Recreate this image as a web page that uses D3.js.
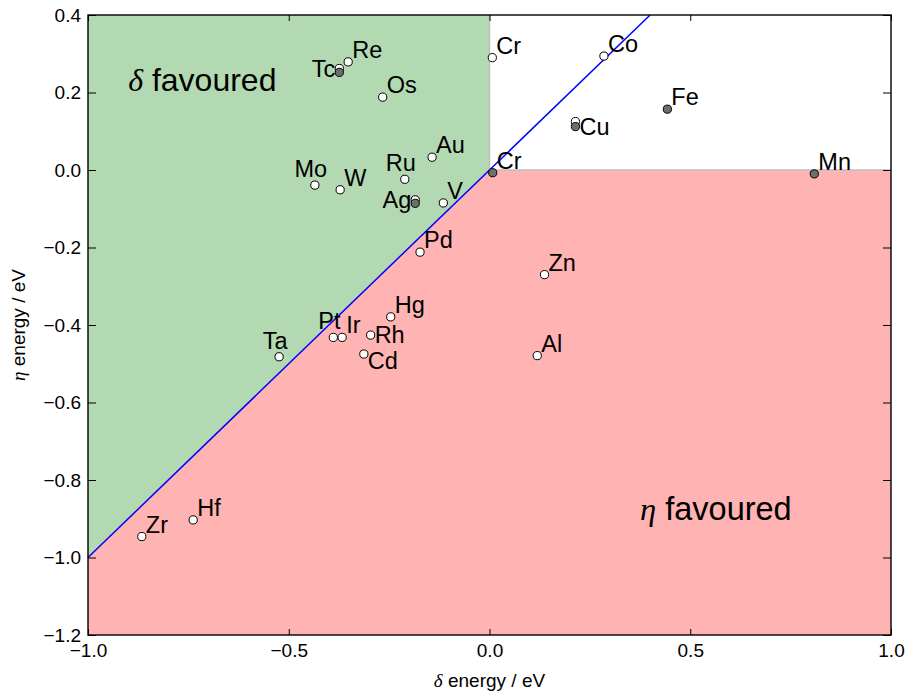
<!DOCTYPE html>
<html>
<head>
<meta charset="utf-8">
<script src="https://cdn.jsdelivr.net/npm/d3@7"></script>
<style>
  body { margin: 0; background: #fff; }
  text { font-family: "Liberation Sans", Arial, sans-serif; }
  .greek { font-family: "Liberation Serif", "DejaVu Serif", serif; font-style: italic; }
</style>
</head>
<body>
<svg width="910" height="696"></svg>
<script>
// open markers (one calculation set)
const openElements = ['Tc', 'Re', 'Os', 'Au', 'Ru', 'Mo', 'W', 'Ag', 'V', 'Cr', 'Co', 'Cu',
    'Pd', 'Hg', 'Pt', 'Ir', 'Rh', 'Cd', 'Ta', 'Zn', 'Al', 'Zr', 'Hf'];
const openDelta = [-0.374, -0.352, -0.266, -0.143, -0.211, -0.435, -0.372, -0.185, -0.115, 0.007, 0.285, 0.214,
    -0.173, -0.246, -0.389, -0.367, -0.296, -0.313, -0.524, 0.137, 0.119, -0.866, -0.738];
const openEta = [0.262, 0.279, 0.188, 0.033, -0.024, -0.039, -0.051, -0.077, -0.085, 0.290, 0.294, 0.125,
    -0.212, -0.379, -0.432, -0.432, -0.426, -0.475, -0.482, -0.270, -0.479, -0.946, -0.903];

// grey markers (magnetic set)
const filledElements = ['Tc', 'Ag', 'Cu', 'Cr', 'Fe', 'Mn'];
const filledDelta = [-0.374, -0.185, 0.214, 0.008, 0.443, 0.809];
const filledEta = [0.252, -0.086, 0.112, -0.007, 0.157, -0.010];

const xTicks = [-1.0, -0.5, 0.0, 0.5, 1.0];
const yTicks = [0.4, 0.2, 0.0, -0.2, -0.4, -0.6, -0.8, -1.0, -1.2];

// labels that are drawn by the grey set instead
const skipOpenLabel = ['Tc', 'Ag', 'Cu'];
const labelPlacement = {
    Mo: 'above', Ru: 'above', Pt: 'above', Ta: 'above',
    Tc: 'left', Ag: 'left',
    Cu: 'rightMid', Rh: 'rightMid', Cd: 'rightBelow'
};
const placements = {
    right: { anchor: 'start', dx: 4, dy: -4 },
    rightMid: { anchor: 'start', dx: 4, dy: 8 },
    rightBelow: { anchor: 'start', dx: 4, dy: 15 },
    above: { anchor: 'middle', dx: -4, dy: -8 },
    left: { anchor: 'end', dx: -4, dy: 5 }
};

const margin = { left: 88, top: 15, right: 19, bottom: 61 };
const width = 910 - margin.left - margin.right,
    height = 696 - margin.top - margin.bottom;

let svg = d3.select('svg');
let g = svg.append('g').attr('transform', `translate(${margin.left},${margin.top})`);

let x = d3.scaleLinear().domain([-1, 1]).range([0, width]);
let y = d3.scaleLinear().domain([-1.2, 0.4]).range([height, 0]);

let poly = d3.line().x(d => x(d[0])).y(d => y(d[1]));

// shaded regions
g.append('path')
    .attr('d', poly([[-1, -1], [0, 0], [0, 0.4], [-1, 0.4]]) + 'Z')
    .attr('fill', '#b3d9b3');
g.append('path')
    .attr('d', poly([[-1, -1.2], [1, -1.2], [1, 0], [0, 0], [-1, -1]]) + 'Z')
    .attr('fill', '#ffb3b3');
g.append('path')
    .attr('d', poly([[0, 0.4], [0, 0], [1, 0]]))
    .attr('fill', 'none')
    .attr('stroke', '#bfbfbf')
    .attr('stroke-width', 1.5);

// delta = eta line
g.append('path')
    .attr('d', poly([[-1, -1], [0.4, 0.4]]))
    .attr('fill', 'none')
    .attr('stroke', '#0000ff')
    .attr('stroke-width', 1.5);

// region captions
let cap1 = g.append('text').attr('x', x(-0.9)).attr('y', y(0.205)).attr('font-size', 32);
cap1.append('tspan').attr('class', 'greek').text('δ');
cap1.append('tspan').text(' favoured');
let cap2 = g.append('text').attr('x', x(0.375)).attr('y', y(-0.903)).attr('font-size', 32.5);
cap2.append('tspan').attr('class', 'greek').text('η');
cap2.append('tspan').text(' favoured');

function drawSet(names, dx, dy, fill, skip) {
    let pts = names.map((n, i) => ({ name: n, d: dx[i], e: dy[i] }));
    g.append('g')
        .selectAll('circle')
        .data(pts)
        .enter()
        .append('circle')
        .attr('cx', d => x(d.d))
        .attr('cy', d => y(d.e))
        .attr('r', 4.1)
        .attr('fill', fill)
        .attr('stroke', 'black')
        .attr('stroke-width', 1);

    g.append('g')
        .selectAll('text')
        .data(pts.filter(d => skip.indexOf(d.name) < 0))
        .enter()
        .append('text')
        .attr('font-size', 23.5)
        .each(function (d) {
            let p = placements[labelPlacement[d.name] || 'right'];
            d3.select(this)
                .attr('x', x(d.d) + p.dx)
                .attr('y', y(d.e) + p.dy)
                .attr('text-anchor', p.anchor);
        })
        .text(d => d.name);
}

drawSet(openElements, openDelta, openEta, 'white', skipOpenLabel);
drawSet(filledElements, filledDelta, filledEta, '#6e6e6e', []);

// frame
g.append('rect')
    .attr('width', width).attr('height', height)
    .attr('fill', 'none').attr('stroke', 'black').attr('stroke-width', 1.4);

// axes, ticks pointing inward on all four sides
let fmt = d3.format('.1f');
g.append('g').attr('transform', `translate(0,${height})`)
    .call(d3.axisBottom(x).tickValues(xTicks).tickFormat(fmt).tickSizeInner(-6).tickSizeOuter(0).tickPadding(9));
g.append('g')
    .call(d3.axisTop(x).tickValues(xTicks).tickFormat('').tickSizeInner(-6).tickSizeOuter(0));
g.append('g')
    .call(d3.axisLeft(y).tickValues(yTicks).tickFormat(fmt).tickSizeInner(-8).tickSizeOuter(0).tickPadding(7));
g.append('g').attr('transform', `translate(${width},0)`)
    .call(d3.axisRight(y).tickValues(yTicks).tickFormat('').tickSizeInner(-8).tickSizeOuter(0));

g.selectAll('.domain').remove();
g.selectAll('.tick line').attr('stroke', 'black').attr('stroke-width', 1);
g.selectAll('.tick text')
    .attr('font-family', '"Liberation Sans", Arial, sans-serif')
    .attr('font-size', 19)
    .attr('fill', 'black');

// axis titles
let xl = svg.append('text')
    .attr('x', margin.left + width / 2).attr('y', 687)
    .attr('text-anchor', 'middle').attr('font-size', 19);
xl.append('tspan').attr('class', 'greek').text('δ');
xl.append('tspan').text(' energy / eV');

let yl = svg.append('text')
    .attr('transform', `translate(25,${margin.top + height / 2}) rotate(-90)`)
    .attr('text-anchor', 'middle').attr('font-size', 19);
yl.append('tspan').attr('class', 'greek').text('η');
yl.append('tspan').text(' energy / eV');
</script>
</body>
</html>
